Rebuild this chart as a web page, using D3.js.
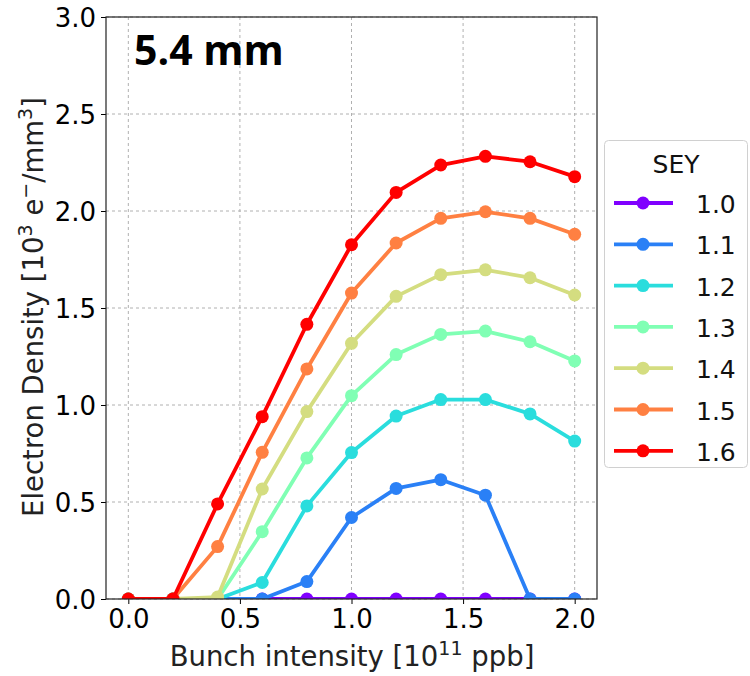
<!DOCTYPE html>
<html>
<head>
<meta charset="utf-8">
<script src="https://cdn.jsdelivr.net/npm/d3@7"></script>
<style>
  body { margin: 0; background: #fff; }
  text { font-family: "DejaVu Sans", sans-serif; }
</style>
</head>
<body>
<div id="chart"></div>
<script>
var svgWidth = 750;
var svgHeight = 676;

// data
var intensity = [0.0, 0.2, 0.4, 0.6, 0.8, 1.0, 1.2, 1.4, 1.6, 1.8, 2.0];
var seyLabels = ["1.0", "1.1", "1.2", "1.3", "1.4", "1.5", "1.6"];
var sey10 = [0, 0, 0, 0, 0, 0, 0, 0, 0, 0, 0];
var sey11 = [0, 0, 0, 0, 0.09, 0.42, 0.57, 0.615, 0.535, 0, 0];
var sey12 = [0, 0, 0, 0.085, 0.48, 0.755, 0.943, 1.028, 1.028, 0.954, 0.814];
var sey13 = [0, 0, 0, 0.347, 0.727, 1.048, 1.26, 1.364, 1.381, 1.326, 1.227];
var sey14 = [0, 0, 0.01, 0.567, 0.966, 1.318, 1.56, 1.672, 1.697, 1.656, 1.567];
var sey15 = [0, 0, 0.27, 0.756, 1.186, 1.577, 1.835, 1.962, 1.996, 1.962, 1.88];
var sey16 = [0, 0, 0.49, 0.94, 1.416, 1.826, 2.096, 2.237, 2.282, 2.254, 2.177];
var xTicks = [0.0, 0.5, 1.0, 1.5, 2.0];
var yTicks = [0.0, 0.5, 1.0, 1.5, 2.0, 2.5, 3.0];

var allSeries = [sey10, sey11, sey12, sey13, sey14, sey15, sey16];
var colors = ["#8000ff", "#2a80f6", "#2adddd", "#80ffb4", "#d4dd80", "#ff8042", "#ff0000"];

var plot = { left: 106, right: 597, top: 17, bottom: 599 };

var svg = d3.select("#chart")
    .append("svg")
    .attr("width", svgWidth)
    .attr("height", svgHeight);

var xScale = d3.scaleLinear().domain([-0.1, 2.1]).range([plot.left, plot.right]);
var yScale = d3.scaleLinear().domain([0, 3]).range([plot.bottom, plot.top]);

// grid
svg.append("g").selectAll("line.vg")
    .data(xTicks).enter().append("line")
    .attr("x1", d => xScale(d)).attr("x2", d => xScale(d))
    .attr("y1", plot.top).attr("y2", plot.bottom)
    .attr("stroke", "#b0b0b0").attr("stroke-width", 1)
    .attr("stroke-dasharray", "3,3");
svg.append("g").selectAll("line.hg")
    .data(yTicks).enter().append("line")
    .attr("x1", plot.left).attr("x2", plot.right)
    .attr("y1", d => yScale(d)).attr("y2", d => yScale(d))
    .attr("stroke", "#b0b0b0").attr("stroke-width", 1)
    .attr("stroke-dasharray", "3,3");

// series, clipped to the axes box
svg.append("clipPath").attr("id", "clip")
    .append("rect")
    .attr("x", plot.left).attr("y", plot.top - 10)
    .attr("width", plot.right - plot.left).attr("height", plot.bottom - plot.top + 10);

var line = d3.line()
    .x((d, i) => xScale(intensity[i]))
    .y(d => yScale(d));

var seriesGroup = svg.append("g").attr("clip-path", "url(#clip)");
allSeries.forEach(function (vals, k) {
    var g = seriesGroup.append("g");
    g.append("path")
        .datum(vals)
        .attr("d", line)
        .attr("fill", "none")
        .attr("stroke", colors[k])
        .attr("stroke-width", 3.8)
        .attr("stroke-linejoin", "round");
    g.selectAll("circle")
        .data(vals).enter().append("circle")
        .attr("cx", (d, i) => xScale(intensity[i]))
        .attr("cy", d => yScale(d))
        .attr("r", 6.5)
        .attr("fill", colors[k]);
});

// axes
var xAxis = d3.axisBottom(xScale).tickValues(xTicks).tickFormat(d3.format(".1f")).tickSize(5).tickPadding(6);
var yAxis = d3.axisLeft(yScale).tickValues(yTicks).tickFormat(d3.format(".1f")).tickSize(5).tickPadding(5);

var gx = svg.append("g").attr("transform", `translate(0, ${plot.bottom})`).call(xAxis);
var gy = svg.append("g").attr("transform", `translate(${plot.left}, 0)`).call(yAxis);
[gx, gy].forEach(function (g) {
    g.select(".domain").remove();
    g.selectAll("text").attr("font-size", 26).attr("fill", "#000")
        .style("font-family", "DejaVu Sans, sans-serif");
    g.selectAll("line").attr("stroke", "#000");
});
gy.selectAll("text").attr("dy", "0.36em");

// frame
svg.append("rect")
    .attr("x", plot.left).attr("y", plot.top)
    .attr("width", plot.right - plot.left).attr("height", plot.bottom - plot.top)
    .attr("fill", "none").attr("stroke", "#222").attr("stroke-width", 1.2);

// axis labels
var xl = svg.append("text")
    .attr("x", 352)
    .attr("y", 666)
    .attr("text-anchor", "middle")
    .attr("font-size", 27.5)
    .attr("fill", "#222");
xl.append("tspan").text("Bunch intensity [10");
xl.append("tspan").attr("font-size", 19).attr("dy", -11).text("11");
xl.append("tspan").attr("dy", 11).text(" ppb]");

var yl = svg.append("text")
    .attr("transform", `translate(43, 307) rotate(-90)`)
    .attr("text-anchor", "middle")
    .attr("font-size", 27.5)
    .attr("fill", "#222");
yl.append("tspan").text("Electron Density [10");
yl.append("tspan").attr("font-size", 19).attr("dy", -11).text("3");
yl.append("tspan").attr("dy", 11).text(" e");
yl.append("tspan").attr("font-size", 19).attr("dy", -11).text("\u2212");
yl.append("tspan").attr("dy", 11).text("/mm");
yl.append("tspan").attr("font-size", 19).attr("dy", -11).text("3");
yl.append("tspan").attr("dy", 11).text("]");

// panel title
svg.append("text")
    .attr("x", 134).attr("y", 65)
    .attr("font-size", 41)
    .attr("font-weight", "bold")
    .style("font-family", "'Open Sans', sans-serif")
    .attr("fill", "#000")
    .text("5.4 mm");

// legend
var legend = svg.append("g");
legend.append("rect")
    .attr("x", 604.5).attr("y", 140.5)
    .attr("width", 143).attr("height", 327)
    .attr("rx", 4)
    .attr("fill", "#fff").attr("stroke", "#d0d0d0").attr("stroke-width", 1);
legend.append("text")
    .attr("x", 676).attr("y", 173)
    .attr("text-anchor", "middle")
    .attr("font-size", 25).attr("fill", "#111")
    .text("SEY");
seyLabels.forEach(function (lab, k) {
    var y = 203 + k * 41.3;
    legend.append("line")
        .attr("x1", 614).attr("x2", 673)
        .attr("y1", y).attr("y2", y)
        .attr("stroke", colors[k]).attr("stroke-width", 3.8);
    legend.append("circle")
        .attr("cx", 643).attr("cy", y).attr("r", 6.5)
        .attr("fill", colors[k]);
    legend.append("text")
        .attr("x", 696).attr("y", y + 10)
        .attr("font-size", 25).attr("fill", "#111")
        .text(lab);
});
</script>
</body>
</html>
